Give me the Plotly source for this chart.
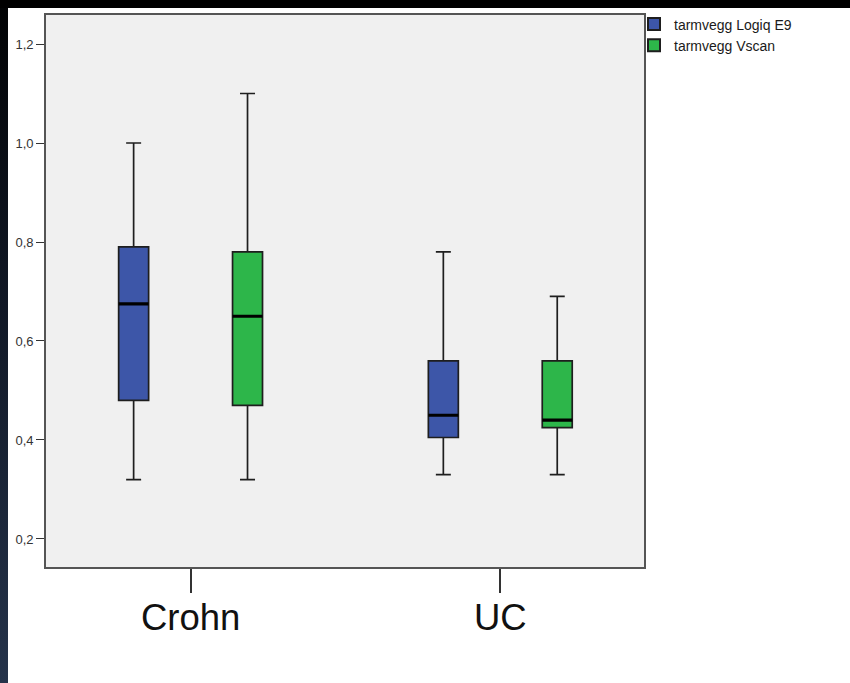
import plotly.graph_objects as go

categories = ["Crohn", "UC"]
series_names = ["tarmvegg Logiq E9", "tarmvegg Vscan"]

logiq_lower = [0.32, 0.33]
logiq_q1 = [0.48, 0.405]
logiq_median = [0.675, 0.45]
logiq_q3 = [0.79, 0.56]
logiq_upper = [1.00, 0.78]

vscan_lower = [0.32, 0.33]
vscan_q1 = [0.47, 0.425]
vscan_median = [0.65, 0.44]
vscan_q3 = [0.78, 0.56]
vscan_upper = [1.10, 0.69]

y_tickvals = [0.2, 0.4, 0.6, 0.8, 1.0, 1.2]

colors = ["#3d56a8", "#2db64a"]

series = [
    (series_names[0], logiq_lower, logiq_q1, logiq_median, logiq_q3, logiq_upper, colors[0], "a"),
    (series_names[1], vscan_lower, vscan_q1, vscan_median, vscan_q3, vscan_upper, colors[1], "b"),
]

fig = go.Figure()
for name, lo, q1, med, q3, up, col, grp in series:
    fig.add_trace(go.Box(
        name=name, x=categories, lowerfence=lo, q1=q1, median=med, q3=q3, upperfence=up,
        fillcolor=col, line=dict(color="#1e1e1e", width=1.7), whiskerwidth=0.5,
        offsetgroup=grp, boxpoints=False, showlegend=True,
    ))
    # thick black median line overlay
    fig.add_trace(go.Box(
        name=name, x=categories, lowerfence=med, q1=med, median=med, q3=med, upperfence=med,
        fillcolor="rgba(0,0,0,0)", line=dict(color="#000000", width=3.2), whiskerwidth=0,
        offsetgroup=grp, boxpoints=False, showlegend=False, hoverinfo="skip",
    ))

# page has an 8px body margin; figure occupies the rest
W, H = 842, 675
L, R, T, B = 38, 206, 7, 116
pw, ph = W - L - R, H - T - B

def px_x(x):
    return (x - L) / pw

def px_y(y):
    return (H - B - y) / ph

fig.update_layout(
    width=W, height=H,
    margin=dict(l=L, r=R, t=T, b=B, autoexpand=False),
    paper_bgcolor="#ffffff", plot_bgcolor="#f0f0f0",
    boxmode="group", boxgap=0.2645, boxgroupgap=0.7368,
    separators=",.",
    font=dict(family="Liberation Sans, Arial, sans-serif", color="#222222"),
    showlegend=True,
    legend=dict(x=px_x(626), y=px_y(0.5), xanchor="left", yanchor="top",
                bgcolor="rgba(0,0,0,0)", font=dict(size=14, color="#1a1a1a"),
                tracegroupgap=0, itemsizing="constant"),
)
fig.update_xaxes(
    type="category", range=[-0.4668, 1.464],
    showline=True, mirror=True, linecolor="#555555", linewidth=1.6,
    ticks="outside", ticklen=24, tickwidth=1.6, tickcolor="#333333",
    tickfont=dict(size=36.5, color="#111111"), ticklabelstandoff=-7,
    showgrid=False, zeroline=False,
)
fig.update_yaxes(
    range=[0.1434, 1.2586], tickvals=y_tickvals, tickformat=".1f",
    showline=True, mirror=True, linecolor="#555555", linewidth=1.6,
    ticks="outside", ticklen=8, tickwidth=1.4, tickcolor="#333333",
    tickfont=dict(size=13, color="#333333"), showgrid=False, zeroline=False,
)

page_style = (
    "document.body.style.background="
    "'linear-gradient(#000, #000) left top / 100% 8px no-repeat fixed, "
    "linear-gradient(to bottom, #020304 0%, #111826 45%, #25334a 100%) left top / 8px 100% no-repeat fixed, "
    "#ffffff';"
)
fig.write_html("out.html", post_script=page_style)
